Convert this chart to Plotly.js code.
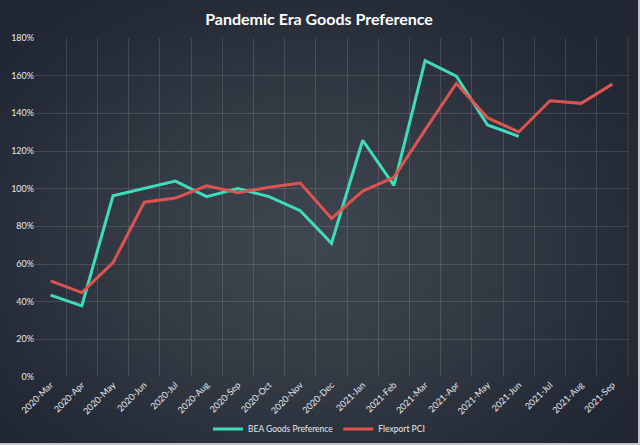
<!DOCTYPE html>
<html>
<head>
<meta charset="utf-8">
<script src="https://cdn.plot.ly/plotly-3.0.1.min.js"></script>
<style>
html,body{margin:0;padding:0;background:#232a35;}
#wrap{position:relative;width:640px;height:445px;box-sizing:border-box;border-right:2px solid #c4c6c8;border-bottom:2px solid #c4c6c8;
background:radial-gradient(ellipse 60% 65% at 48% 55%, #40464f 0%, #353b45 45%, #262c37 85%, #222833 100%);}
#chart{width:638px;height:443px;}
</style>
</head>
<body>
<div id="wrap"><div id="chart"></div></div>
<script>
const months = ["2020-Mar","2020-Apr","2020-May","2020-Jun","2020-Jul","2020-Aug","2020-Sep","2020-Oct","2020-Nov","2020-Dec","2021-Jan","2021-Feb","2021-Mar","2021-Apr","2021-May","2021-Jun","2021-Jul","2021-Aug","2021-Sep"];
const beaGoods = [43.5, 37.8, 96.2, 100.0, 104.0, 95.8, 100.0, 95.8, 88.3, 71.0, 125.7, 101.8, 168.0, 159.8, 133.8, 127.8, null, null, null];
const flexportPCI = [51.0, 44.8, 60.7, 92.8, 95.0, 101.5, 97.9, 100.7, 103.0, 84.2, 98.7, 106.0, 131.2, 155.9, 137.6, 130.1, 146.7, 145.3, 155.5];
const yTicks = [0,20,40,60,80,100,120,140,160,180];

const traces = [
  {x: months, y: beaGoods, type:'scatter', mode:'lines', name:'BEA Goods Preference',
   line:{color:'#3fdcbc', width:3}, connectgaps:false},
  {x: months, y: flexportPCI, type:'scatter', mode:'lines', name:'Flexport PCI',
   line:{color:'#dc5450', width:3}}
];
const layout = {
  width:638, height:443,
  paper_bgcolor:'rgba(0,0,0,0)', plot_bgcolor:'rgba(0,0,0,0)',
  margin:{l:35, r:10, t:38, b:66},
  font:{family:'Lato, "Open Sans", sans-serif', color:'#e6e8ea', size:9},
  title:{text:'<b>Pandemic Era Goods Preference</b>', font:{size:16, color:'#ffffff', family:'Lato, "Open Sans", sans-serif'},
         x:0.5, xanchor:'center', y:1-19/443, yref:'container', yanchor:'middle'},
  xaxis:{type:'category', range:[-0.5, 18.5], tickson:'boundaries', ticks:'', tickangle:-45,
         showgrid:true, gridcolor:'rgba(255,255,255,0.12)', gridwidth:1, showline:false, zeroline:false,
         tickfont:{size:9, color:'#e6e8ea'}, fixedrange:true, automargin:false},
  yaxis:{range:[0,180], tickvals:yTicks, ticktext:yTicks.map(v=>v+'%'), showgrid:true,
         gridcolor:'rgba(255,255,255,0.12)', gridwidth:1, zeroline:false, showline:false, ticks:'',
         tickfont:{size:9, color:'#e6e8ea'}, fixedrange:true, automargin:false},
  showlegend:true,
  legend:{orientation:'h', x:0.5, xanchor:'center', xref:'container', y:1-429/443, yref:'container', yanchor:'middle',
          font:{size:8.5, color:'#e6e8ea'}, bgcolor:'rgba(0,0,0,0)', itemwidth:30, tracegroupgap:0},
  shapes:[
    {type:'line', xref:'paper', yref:'paper', x0:1, x1:1, y0:0, y1:1, line:{color:'rgba(255,255,255,0.12)', width:1}}
  ]
};
Plotly.newPlot('chart', traces, layout, {displayModeBar:false, staticPlot:true});
</script>
</body>
</html>
